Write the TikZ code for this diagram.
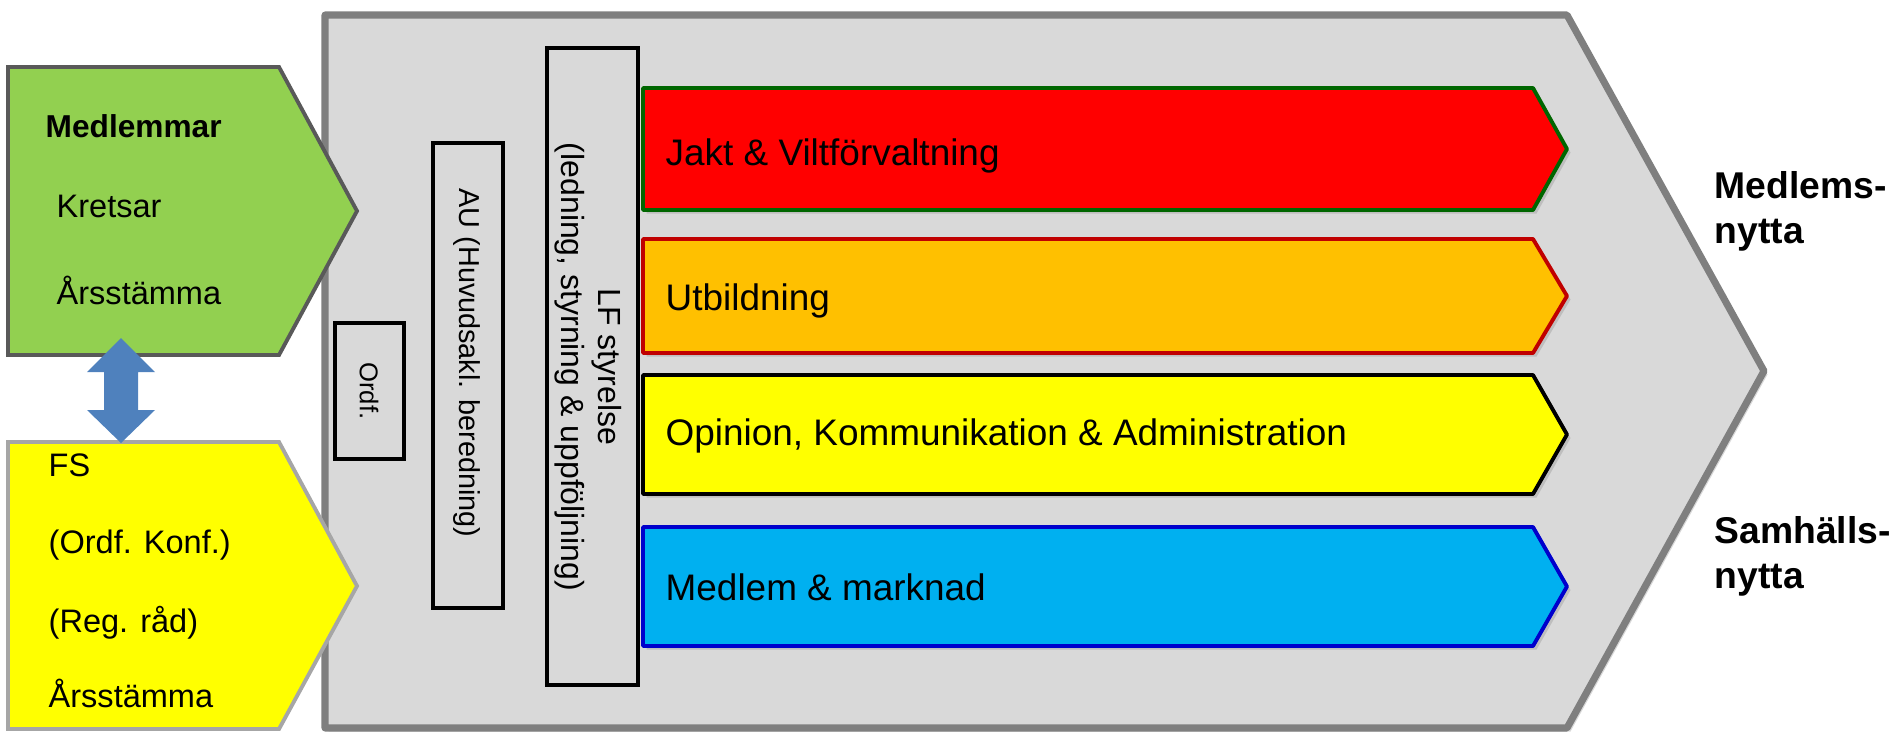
\documentclass[tikz,border=0pt]{standalone}
\usepackage{fontspec}
\setmainfont{Liberation Sans}
\usetikzlibrary{calc,shadows}
\definecolor{panelgray}{HTML}{D9D9D9}
\definecolor{panelline}{HTML}{7F7F7F}
\definecolor{memgreen}{HTML}{92D050}
\definecolor{memline}{HTML}{595959}
\definecolor{fsyellow}{HTML}{FFFF00}
\definecolor{fsline}{HTML}{A6A6A6}
\definecolor{linkblue}{HTML}{4F81BD}
\definecolor{darkgreen}{HTML}{006600}
\definecolor{darkred}{HTML}{C00000}
\definecolor{laneorange}{HTML}{FFC000}
\definecolor{laneblue}{HTML}{00B0F0}
\definecolor{laneblueline}{HTML}{0000CC}
\def\lane[#1](#2:#3){\draw[#1] (643,#2) -- (1533,#2) -- (1567,{(#2+#3)/2}) -- (1533,#3) -- (643,#3) -- cycle;}
\tikzset{
  softshadow/.style={drop shadow={opacity=0.3, shadow xshift=1pt, shadow yshift=-1pt}},
  lanebox/.style={line width=1.1pt, line join=round, softshadow},
  lanetext/.style={anchor=base west, inner sep=0pt, font=\fontsize{10.5}{12}\selectfont},
  sidetext/.style={anchor=base west, inner sep=0pt, font=\fontsize{9.25}{11}\selectfont},
  gaintext/.style={anchor=base west, inner sep=0pt, font=\fontsize{10.6}{12.8}\selectfont\bfseries},
}

\begin{document}
\begin{tikzpicture}[x=0.01cm, y=-0.01cm]
		%%%%% START %%%%%
		\useasboundingbox (0,0) rectangle (1893,733);

		\draw[line width=2pt, color=panelline, fill=panelgray, line join=round, softshadow] (325,15) -- (1567,15) -- (1764,371) -- (1567,728) -- (325,728) -- cycle;

		\draw[line width=1.1pt, color=memline, fill=memgreen] (8,67) -- (279,67) -- (357,211) -- (279,355) -- (8,355) -- cycle;
		\draw[line width=1.1pt, color=fsline, fill=fsyellow] (8,442) -- (279,442) -- (357,586) -- (279,729) -- (8,729) -- cycle;

		\node[sidetext, font=\fontsize{9}{11}\selectfont\bfseries] (medl) at (45,137) {Medlemmar};
		\node[sidetext] (kret) at (56,217) {Kretsar};
		\node[sidetext] (arsA) at (56,304) {Årsstämma};
		\node[sidetext] (fs) at (48,476) {FS};
		\node[sidetext] (konf) at (48,553) {(Ordf. Konf.)};
		\node[sidetext] (regr) at (48,632) {(Reg. råd)};
		\node[sidetext] (arsB) at (48,707) {Årsstämma};

		\coordinate (linktop) at (121,338);
		\coordinate (linkbot) at (121,443);
		\fill[linkblue] (linktop) -- ++(34,34) -- ++(-17,0) -- ($(linkbot)+(17,-33)$) -- ++(17,0) -- (linkbot) -- ++(-34,-33) -- ++(17,0) -- ($(linktop)+(-17,34)$) -- ++(-17,0) -- cycle;

		\draw[line width=1.3pt] (335,323) rectangle (404,459);
		\node[rotate=-90, font=\fontsize{7.3}{9}\selectfont] (ordf) at (369,391) {Ordf.};
		\draw[line width=1.3pt] (433,143) rectangle (503,608);
		\node[rotate=-90, font=\fontsize{8.2}{10}\selectfont] (au) at (467,363) {AU (Huvudsakl. beredning)};
		\draw[line width=1pt] (547,48) rectangle (638,685);
		\node[rotate=-90, align=center, font=\fontsize{9.1}{10.5}\selectfont] (lf) at (588,367) {LF styrelse\\(ledning, styrning \& uppföljning)};

		\lane[lanebox, fill=red, draw=darkgreen](88:210)
		\lane[lanebox, fill=laneorange, draw=darkred](239:353)
		\lane[lanebox, fill=fsyellow, draw=black](375:494)
		\lane[lanebox, fill=laneblue, draw=laneblueline](527:646)

		\node[lanetext] (jakt) at (665,165) {Jakt \& Viltförvaltning};
		\node[lanetext] (utb) at (665,310) {Utbildning};
		\node[lanetext] (opin) at (665,445) {Opinion, Kommunikation \& Administration};
		\node[lanetext] (mark) at (665,600) {Medlem \& marknad};

		\node[gaintext] (nyttaA) at (1714,198) {Medlems-};
		\node[gaintext] (nyttaB) at (1714,243) {nytta};
		\node[gaintext] (nyttaC) at (1714,543) {Samhälls-};
		\node[gaintext] (nyttaD) at (1714,588) {nytta};

		%%%%% END %%%%%
	\end{tikzpicture}
\end{document}
